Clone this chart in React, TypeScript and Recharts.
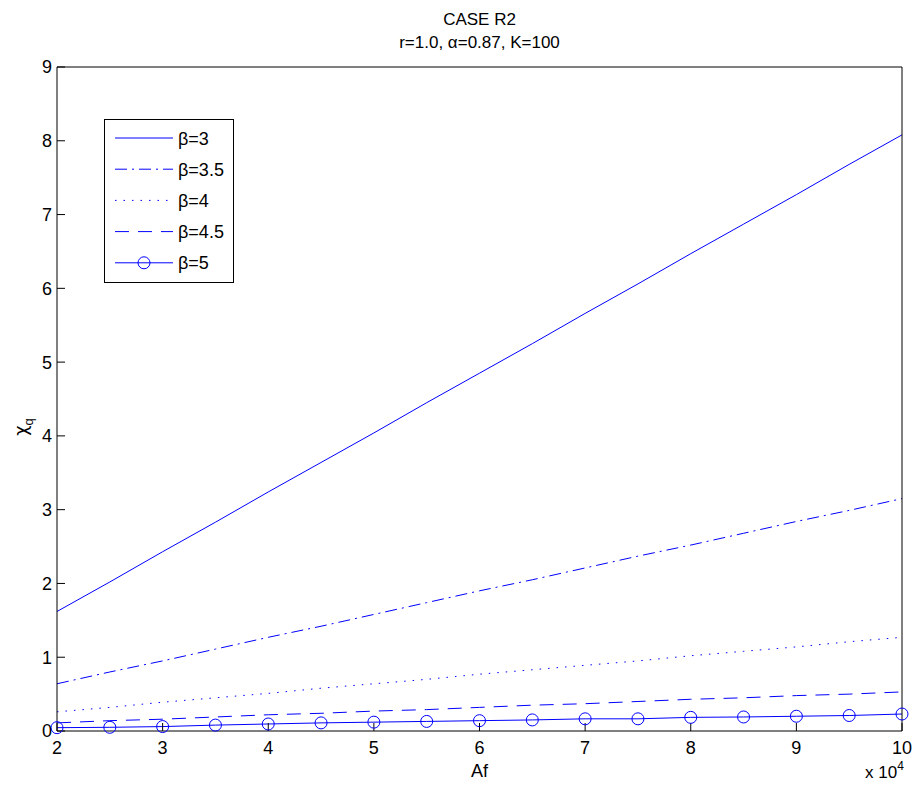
import React from "react"
import { LineChart, Line, XAxis, YAxis, Legend, Label } from "recharts"

// Af values (x 10^4 on the axis)
const afValues = [20000, 25000, 30000, 35000, 40000, 45000, 50000, 55000, 60000, 65000, 70000, 75000, 80000, 85000, 90000, 95000, 100000]
const beta3 = [1.62, 2.02, 2.43, 2.83, 3.24, 3.64, 4.04, 4.45, 4.85, 5.25, 5.66, 6.06, 6.47, 6.87, 7.27, 7.68, 8.08]
const beta35 = [0.64, 0.8, 0.95, 1.11, 1.27, 1.42, 1.58, 1.74, 1.9, 2.05, 2.21, 2.37, 2.52, 2.68, 2.84, 2.99, 3.15]
const beta4 = [0.26, 0.32, 0.39, 0.45, 0.51, 0.58, 0.64, 0.7, 0.77, 0.83, 0.89, 0.95, 1.02, 1.08, 1.14, 1.21, 1.27]
const beta45 = [0.11, 0.14, 0.16, 0.19, 0.22, 0.24, 0.27, 0.29, 0.32, 0.35, 0.37, 0.4, 0.43, 0.45, 0.48, 0.5, 0.53]
const beta5 = [0.045, 0.05, 0.06, 0.08, 0.095, 0.11, 0.12, 0.13, 0.14, 0.15, 0.165, 0.165, 0.185, 0.19, 0.2, 0.21, 0.23]

const xTicks = [20000, 30000, 40000, 50000, 60000, 70000, 80000, 90000, 100000]
const yTicks = [0, 1, 2, 3, 4, 5, 6, 7, 8, 9]

const BLUE = "#0000ff"
const FONT = "'Liberation Sans', Arial, Helvetica, sans-serif"

const series = [
  { key: "b3", name: "β=3", values: beta3, dash: undefined as string | undefined, marker: false },
  { key: "b35", name: "β=3.5", values: beta35, dash: "12 5 2 5", marker: false },
  { key: "b4", name: "β=4", values: beta4, dash: "1.5 7", marker: false },
  { key: "b45", name: "β=4.5", values: beta45, dash: "14 9", marker: false },
  { key: "b5", name: "β=5", values: beta5, dash: undefined, marker: true },
]

const data = afValues.map((af, i) => {
  const row: Record<string, number> = { af }
  series.forEach((s) => {
    row[s.key] = s.values[i]
  })
  return row
})

const tickStyle = { fontSize: 18, fill: "#000", fontFamily: FONT }

function LegendBox() {
  return (
    <svg width={130} height={164} style={{ display: "block" }}>
      <rect x={0.5} y={0.5} width={129} height={163} fill="#fff" stroke="#000" strokeWidth={1} />
      {series.map((s, i) => {
        const y = 19 + i * 31.2
        return (
          <g key={s.key}>
            <line x1={11} x2={69} y1={y} y2={y} stroke={BLUE} strokeWidth={1} strokeDasharray={s.dash} />
            {s.marker && <circle cx={40} cy={y} r={6} fill="none" stroke={BLUE} strokeWidth={1} />}
            <text x={74} y={y + 6.5} fontSize={18} fontFamily={FONT} fill="#000">
              {s.name}
            </text>
          </g>
        )
      })}
    </svg>
  )
}

export default function App() {
  return (
    <div style={{ position: "absolute", left: 0, top: 0, width: 915, height: 792, background: "#fff", fontFamily: FONT }}>
      <div style={{ position: "absolute", left: 0, width: 959, top: 8, textAlign: "center", fontSize: 17, lineHeight: "23px", color: "#000" }}>
        <div>CASE R2</div>
        <div>r=1.0, α=0.87, K=100</div>
      </div>
      <LineChart width={915} height={792} data={data} margin={{ top: 66, right: 12, left: 0, bottom: 0 }}>
        <XAxis
          dataKey="af"
          type="number"
          domain={[20000, 100000]}
          ticks={xTicks}
          tickFormatter={(v: number) => String(v / 10000)}
          tick={tickStyle}
          tickSize={-8}
          tickMargin={18}
          height={61}
          stroke="#000"
          interval={0}
        >
          <Label
            content={({ viewBox }: any) => (
              <g>
                <text x={viewBox.x + viewBox.width / 2} y={viewBox.y + 46} textAnchor="middle" fontSize={18} fontFamily={FONT} fill="#000">
                  Af
                </text>
                <text x={viewBox.x + viewBox.width - 37} y={viewBox.y + 47} fontSize={17} fontFamily={FONT} fill="#000">
                  x 10
                  <tspan dy={-8} fontSize={12}>4</tspan>
                </text>
              </g>
            )}
          />
        </XAxis>
        <XAxis
          xAxisId="top"
          orientation="top"
          type="number"
          dataKey="af"
          domain={[20000, 100000]}
          ticks={xTicks}
          tick={false}
          tickSize={-8}
          height={1}
          stroke="#000"
          interval={0}
        />
        <YAxis
          type="number"
          domain={[0, 9]}
          ticks={yTicks}
          tick={tickStyle}
          tickSize={-8}
          tickMargin={13}
          width={57}
          stroke="#000"
          interval={0}
        >
          <Label
            content={({ viewBox }: any) => (
              <text
                transform={`translate(${viewBox.x + 27}, ${viewBox.y + viewBox.height / 2 + 28}) rotate(-90)`}
                fontSize={18}
                fontFamily="'DejaVu Sans', sans-serif"
                fill="#000"
                textAnchor="middle"
              >
                χ<tspan dy={6} fontSize={13} fontFamily={FONT}>q</tspan>
              </text>
            )}
          />
        </YAxis>
        <YAxis
          yAxisId="right"
          orientation="right"
          type="number"
          domain={[0, 9]}
          ticks={yTicks}
          tick={false}
          tickSize={-8}
          width={1}
          stroke="#000"
          interval={0}
        />
        <Legend
          layout="vertical"
          verticalAlign="middle"
          align="center"
          wrapperStyle={{ left: 104, top: 119, width: 130 }}
          content={() => <LegendBox />}
        />
        {series.map((s) => (
          <Line
            key={s.key}
            dataKey={s.key}
            name={s.name}
            type="linear"
            stroke={BLUE}
            strokeWidth={1}
            strokeDasharray={s.dash}
            dot={s.marker ? { r: 6, fill: "none", stroke: BLUE, strokeWidth: 1 } : false}
            activeDot={false}
            isAnimationActive={false}
          />
        ))}
      </LineChart>
    </div>
  )
}
